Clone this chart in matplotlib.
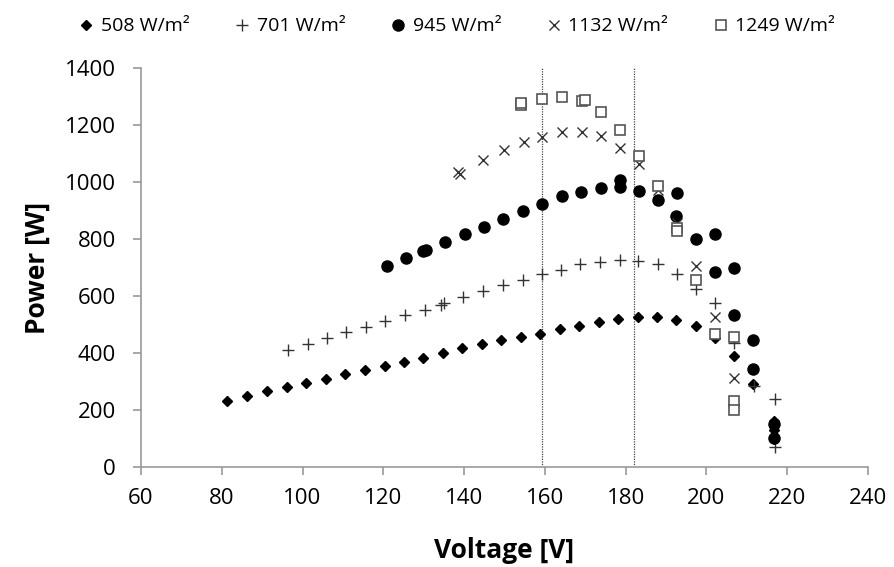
import matplotlib
matplotlib.use("Agg")
import matplotlib.pyplot as plt

plt.rcParams['font.family'] = ['Open Sans', 'DejaVu Sans']

# 508 W/m2
v508 = [81.2, 86.3, 91.3, 96.1, 100.8, 105.7, 110.6, 115.4, 120.3, 125.0,
        129.7, 134.7, 139.5, 144.4, 149.2, 154.1, 158.8, 163.7, 168.5, 173.3,
        178.2, 183.0, 187.8, 192.5, 197.3, 202.1, 206.8, 211.6, 216.6, 216.6, 216.7]
p508 = [233, 250, 266, 280, 294, 310, 327, 342, 356, 369,
        384, 400, 419, 432, 446, 457, 467, 484, 495, 509,
        521, 527, 526, 516, 494, 452, 390, 292, 163, 130, 98]

# 701 W/m2
v701 = [96.3, 101.3, 106.0, 110.8, 115.6, 120.5, 125.3, 130.2, 134.2, 135.0,
        139.8, 144.7, 149.7, 154.5, 159.3, 164.1, 168.8, 173.7, 178.5, 183.0,
        188.0, 192.6, 197.5, 202.2, 206.8, 211.7, 217.0, 216.9]
p701 = [411, 431, 452, 472, 491, 513, 532, 552, 569, 575,
        595, 617, 637, 657, 676, 692, 712, 720, 725, 724,
        712, 678, 625, 575, 434, 283, 240, 71]

# 945 W/m2
v945 = [120.8, 125.6, 129.7, 130.5, 135.2, 140.1, 144.9, 149.7, 154.6, 159.3,
        164.2, 169.0, 173.8, 178.7, 178.7, 183.2, 187.9, 192.8, 192.4, 197.5,
        202.1, 202.1, 206.8, 206.8, 211.6, 211.6, 216.7, 216.7]
p945 = [706, 732, 757, 761, 790, 818, 843, 870, 897, 923,
        950, 966, 979, 1006, 983, 968, 937, 962, 880, 801,
        818, 684, 699, 535, 446, 345, 150, 103]

# 1132 W/m2
v1132 = [138.6, 139.0, 144.7, 149.9, 154.7, 159.3, 164.2, 169.1, 173.9, 178.7,
         183.2, 188.1, 192.6, 197.5, 202.1, 206.7]
p1132 = [1034, 1028, 1076, 1111, 1140, 1158, 1175, 1176, 1161, 1120,
         1062, 973, 856, 706, 528, 312]

# 1249 W/m2
v1249 = [154.0, 154.2, 159.3, 164.3, 169.2, 170.0, 173.9, 178.7, 183.3, 188.1,
         192.7, 192.7, 197.5, 202.1, 206.8, 206.8, 206.8]
p1249 = [1272, 1276, 1293, 1298, 1283, 1287, 1246, 1182, 1093, 985,
         840, 828, 657, 468, 457, 230, 200]

mpp_lines = [159.3, 182.0]

fig = plt.figure(figsize=(8.94, 5.67), dpi=100)
ax = fig.add_axes([0.1577, 0.1764, 0.8133, 0.7036])

ax.plot(v508, p508, 'D', ms=5.5, color='black', label='508 W/m²')
ax.plot(v701, p701, '+', ms=8, mew=1.0, color='#333333', label='701 W/m²')
ax.plot(v945, p945, 'o', ms=8, color='black', label='945 W/m²')
ax.plot(v1132, p1132, 'x', ms=7, mew=1.0, color='#333333', label='1132 W/m²')
ax.plot(v1249, p1249, 's', ms=7, mfc='white', mec='#555555', mew=1.2, label='1249 W/m²')

for x in mpp_lines:
    ax.axvline(x, color='#444444', linestyle=(0, (1, 1)), linewidth=0.9, zorder=0)

ax.set_xlim(60, 240)
ax.set_ylim(0, 1400)
ax.set_xticks(range(60, 241, 20))
ax.set_yticks(range(0, 1401, 200))

for s in ['top', 'right']:
    ax.spines[s].set_visible(False)
for s in ['left', 'bottom']:
    ax.spines[s].set_color('#999999')
    ax.spines[s].set_linewidth(1.2)
ax.tick_params(axis='both', direction='out', length=6, width=1.2, color='#999999',
               labelsize=16, labelcolor='black')
ax.tick_params(axis='y', pad=12)
ax.tick_params(axis='x', pad=9)

ax.set_xlabel('Voltage [V]', fontsize=19, fontweight='bold', labelpad=20)
ax.set_ylabel('Power [W]', fontsize=19, fontweight='bold', labelpad=10)

fig.legend(loc='upper center', bbox_to_anchor=(0.51, 1.0), ncol=5, frameon=False,
           fontsize=14, handletextpad=0.25, columnspacing=2.2, handlelength=1.0)

fig.savefig('out.png', dpi=100)
